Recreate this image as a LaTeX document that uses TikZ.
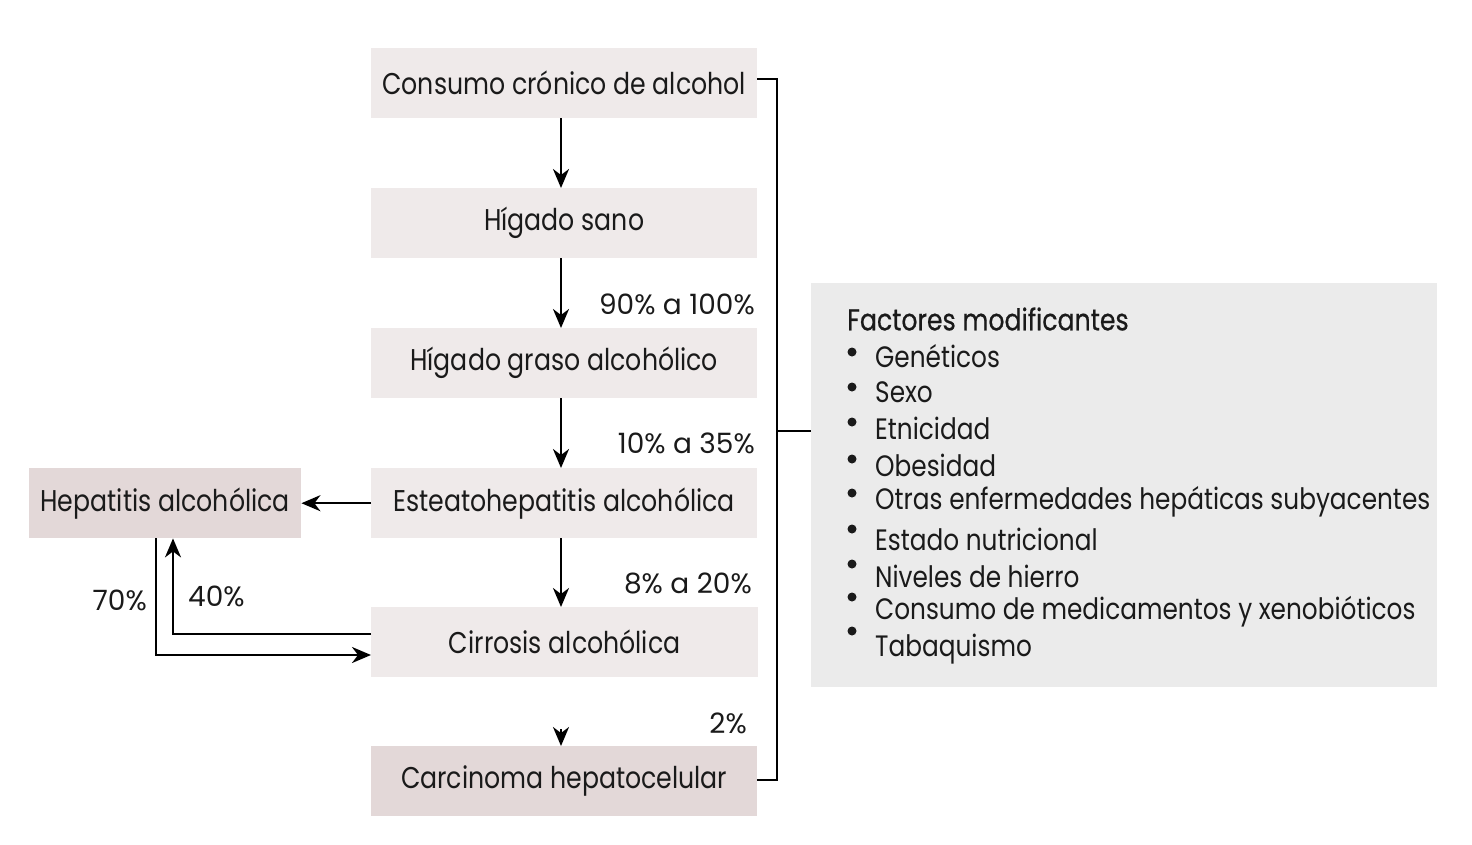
\documentclass[tikz,border=0pt]{standalone}
\usepackage{fontspec}
\setmainfont{Poppins}[FakeStretch=0.84]
\newfontfamily\pctfont{Poppins}
\usetikzlibrary{arrows.meta}
\definecolor{boxa}{HTML}{EFEAEA}
\definecolor{boxb}{HTML}{E3D8D8}
\definecolor{boxc}{HTML}{EBEBEB}
\definecolor{ink}{HTML}{1A1A1A}
\begin{document}
\begin{tikzpicture}[x=1pt,y=-1pt,
  txt/.style={font=\fontsize{30}{36}\selectfont, text=ink},
  stage/.style={txt, fill=boxa, minimum width=386pt, minimum height=70pt, inner sep=0pt, anchor=north west},
  stagedark/.style={stage, fill=boxb},
  arr/.style={-{Stealth[length=19pt,width=16pt,inset=6pt]}, line width=2.4pt},
  brk/.style={line width=2.8pt},
  pct/.style={font=\pctfont\fontsize{28}{34}\selectfont, text=ink, inner sep=0pt}]
\useasboundingbox (0,0) rectangle (1472,844);
\node[stage] (c1) at (371,48) {Consumo crónico de alcohol};
\node[stage] (c2) at (371,188) {Hígado sano};
\node[stage] (c3) at (371,328) {Hígado graso alcohólico};
\node[stage] (c4) at (371,468) {Esteatohepatitis alcohólica};
\node[stage, minimum width=387pt] (c5) at (371,607) {Cirrosis alcohólica};
\node[stagedark] (c6) at (371,746) {Carcinoma hepatocelular};
\node[stagedark, minimum width=272pt] (hep) at (29,468) {Hepatitis alcohólica};
\node[fill=boxc, minimum width=626pt, minimum height=404pt, inner sep=0pt, anchor=north west] (fac) at (811,283) {};
% vertical arrows
\draw[arr] (c1.south -| 561,0) -- (c2.north -| 561,0);
\draw[arr] (c2.south -| 561,0) -- (c3.north -| 561,0);
\draw[arr] (c3.south -| 561,0) -- (c4.north -| 561,0);
\draw[arr] (c4.south -| 561,0) -- (c5.north -| 561,0);
\coordinate (stub) at (561,729);
\draw[arr] (stub) -- (c6.north -| 561,0);
% percentages
\node[pct, anchor=east] at (755,304) {90\% a 100\%};
\node[pct, anchor=east] at (755,443) {10\% a 35\%};
\node[pct, anchor=east] at (752,583) {8\% a 20\%};
\node[pct, anchor=east] at (747,723) {2\%};
\node[pct, anchor=east] at (147,600) {70\%};
\node[pct, anchor=west] at (188,596) {40\%};
% hepatitis arrows
\draw[arr] (c4.west) -- (hep.east);
\draw[arr] (c5.west |- 0,634) -- (173,634) -- (hep.south -| 173,0);
\draw[arr] (hep.south -| 156,0) -- (156,655) -- (c5.west |- 0,655);
% bracket
\draw[brk] (c1.east |- 0,79) -- (777,79) -- (777,780) -- (c6.east |- 0,780);
\draw[brk] (777,431) -- (fac.west |- 0,431);
% factors
\node[txt, anchor=west, inner sep=0pt, font=\fontsize{30}{36}\selectfont\addfontfeatures{FakeBold=0.6}] (title) at (847,319) {Factores modificantes};
\foreach \t/\ty/\by [count=\i] in {Genéticos/356/352, Sexo/392/387, Etnicidad/428/422, Obesidad/465/459, Otras enfermedades hepáticas subyacentes/502/493, Estado nutricional/539/529, Niveles de hierro/576/564, Consumo de medicamentos y xenobióticos/612/597, Tabaquismo/649/631}{
  \node[txt, anchor=west, inner sep=0pt, font=\fontsize{29.5}{36}\selectfont] (it\i) at (875,\ty) {\t};
  \fill[ink] (852,\by) circle (4.5pt);
}
\end{tikzpicture}
\end{document}
